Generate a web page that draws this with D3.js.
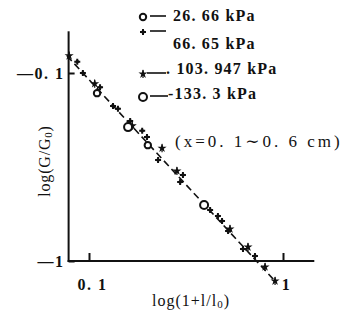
<!DOCTYPE html>
<html>
<head>
<meta charset="utf-8">
<script src="https://cdn.jsdelivr.net/npm/d3@7"></script>
<style>
    html, body { margin: 0; padding: 0; background: #fff; }
    svg text { font-family: "Liberation Serif", "DejaVu Serif", serif; fill: #111; }
</style>
</head>
<body>
<div id="chart"></div>
<script>
/* === log(G/G0) vs log(1+l/l0), four pressures === */

var SERIES_NAMES = ['26. 66 kPa', '66. 65 kPa', '. 103. 947 kPa', '-133. 3 kPa'];

// 26.66 kPa (small circles)
var S1_X = [0.110, 0.201];
var S1_Y = [-0.128, -0.242];

// 66.65 kPa (+)
var S2_X = [0.087, 0.093, 0.114, 0.133, 0.141, 0.163, 0.188, 0.199, 0.227, 0.295, 0.305, 0.421, 0.462, 0.485, 0.521, 0.622, 0.717];
var S2_Y = [-0.087, -0.100, -0.119, -0.150, -0.155, -0.180, -0.203, -0.219, -0.290, -0.380, -0.349, -0.536, -0.576, -0.613, -0.692, -0.864, -0.941];

// 103.947 kPa (stars)
var S3_X = [0.079, 0.107, 0.167, 0.238, 0.284, 0.533, 0.660, 0.808, 0.910];
var S3_Y = [-0.081, -0.114, -0.191, -0.251, -0.332, -0.676, -0.843, -1.076, -1.278];

// 133.3 kPa (circles)
var S4_X = [0.159, 0.392];
var S4_Y = [-0.194, -0.504];

// fitted line end points
var FIT_X = [0.077, 0.91];
var FIT_Y = [-0.081, -1.28];

var X_TICKS = [0.1, 1];
var X_TICK_LABELS = ['0. 1', '1'];
var Y_TICKS = [-0.1, -1];
var Y_TICK_LABELS = ['\u20140. 1', '\u20141'];

var X_EXTENT = [0.0785, 1.45];
var Y_EXTENT = [-0.06, -1];

var width = 347, height = 311;

var svg = d3.select('#chart')
    .append('svg')
    .attr('width', width)
    .attr('height', height);

var x = d3.scaleLog().domain([0.1, 1]).range([89, 283]);
var y = d3.scaleLog().domain([-0.1, -1]).range([73, 261]);

function zip(xs, ys) {
    return xs.map(function(v, i) { return { x: v, y: ys[i] }; });
}

// Axes lines
var x0 = x(X_EXTENT[0]);
svg.append('line')
    .attr('x1', x0).attr('x2', x0)
    .attr('y1', y(Y_EXTENT[0])).attr('y2', y(Y_EXTENT[1]) + 1)
    .attr('stroke', '#111').attr('stroke-width', 2);
svg.append('line')
    .attr('x1', x0 - 1).attr('x2', x(X_EXTENT[1]))
    .attr('y1', y(Y_EXTENT[1])).attr('y2', y(Y_EXTENT[1]))
    .attr('stroke', '#111').attr('stroke-width', 2);

// Ticks (inward) via d3 axes
var xAxis = d3.axisBottom(x)
    .tickValues(X_TICKS)
    .tickSizeInner(-8)
    .tickSizeOuter(0)
    .tickPadding(18)
    .tickFormat(function(d, i) { return X_TICK_LABELS[i]; });

var yAxis = d3.axisLeft(y)
    .tickValues(Y_TICKS)
    .tickSizeInner(-6)
    .tickSizeOuter(0)
    .tickPadding(4)
    .tickFormat(function(d, i) { return Y_TICK_LABELS[i]; });

var gx = svg.append('g')
    .attr('transform', 'translate(0,' + y(-1) + ')')
    .call(xAxis);
var gy = svg.append('g')
    .attr('transform', 'translate(' + x0 + ',0)')
    .call(yAxis);

[gx, gy].forEach(function(g) {
    g.select('.domain').remove();
    g.selectAll('line').attr('stroke', '#111').attr('stroke-width', 2);
    g.attr('font-family', null).attr('font-size', null);
    g.selectAll('text')
        .attr('fill', '#111')
        .style('font-size', '16px')
        .style('font-weight', 'bold')
        .style('letter-spacing', '1.5px');
});
gx.selectAll('.tick text').attr('dx', 3);

// Axis titles
svg.append('text')
    .attr('x', 191).attr('y', 302)
    .attr('text-anchor', 'middle')
    .attr('dominant-baseline', 'middle')
    .style('font-size', '16px')
    .style('letter-spacing', '1px')
    .html('log(1+l/l<tspan font-size="11" dy="3">0</tspan><tspan dy="-3">)</tspan>');

svg.append('text')
    .attr('transform', 'translate(46,161) rotate(-90)')
    .attr('text-anchor', 'middle')
    .attr('dominant-baseline', 'middle')
    .style('font-size', '16px')
    .style('letter-spacing', '0.8px')
    .html('log(G/G<tspan font-size="11" dy="3">0</tspan><tspan dy="-3">)</tspan>');

// Fitted dashed line
svg.append('path')
    .datum(zip(FIT_X, FIT_Y))
    .attr('fill', 'none')
    .attr('stroke', '#111')
    .attr('stroke-width', 1.6)
    .attr('stroke-dasharray', '7,4')
    .attr('d', d3.line().x(function(d) { return x(d.x); }).y(function(d) { return y(d.y); }));

// Markers
function drawMarker(g, kind) {
    if (kind === 'smallCircle') {
        g.append('circle').attr('r', 3.2).attr('fill', '#fff').attr('stroke', '#111').attr('stroke-width', 2);
    } else if (kind === 'circle') {
        g.append('circle').attr('r', 4).attr('fill', '#fff').attr('stroke', '#111').attr('stroke-width', 2);
    } else if (kind === 'plus') {
        g.append('path').attr('d', d3.symbol().type(d3.symbolCross).size(20)()).attr('fill', '#111');
        g.append('circle').attr('r', 1.8).attr('fill', '#111');
    } else {
        g.append('path').attr('d', d3.symbol().type(d3.symbolStar).size(26)()).attr('fill', '#111');
        g.append('line').attr('x1', 0).attr('x2', 0).attr('y1', -4).attr('y2', 4)
            .attr('stroke', '#111').attr('stroke-width', 1.2);
    }
}

var seriesList = [
    { pts: zip(S1_X, S1_Y), kind: 'smallCircle' },
    { pts: zip(S2_X, S2_Y), kind: 'plus' },
    { pts: zip(S3_X, S3_Y), kind: 'star' },
    { pts: zip(S4_X, S4_Y), kind: 'circle' }
];

seriesList.forEach(function(s) {
    svg.append('g').selectAll('g')
        .data(s.pts)
        .join('g')
        .attr('transform', function(d) { return 'translate(' + x(d.x) + ',' + y(d.y) + ')'; })
        .each(function() { drawMarker(d3.select(this), s.kind); });
});

// Legend
var legendRows = [
    { my: 17, ly: 16, lx1: 150, lx2: 166, tx: 173, ty: 17 },
    { my: 32, ly: 31, lx1: 150, lx2: 166, tx: 173, ty: 45 },
    { my: 74, ly: 73, lx1: 147, lx2: 166, tx: 166, ty: 70 },
    { my: 97, ly: 96, lx1: 150, lx2: 168, tx: 168, ty: 95 }
];

legendRows.forEach(function(r, i) {
    var g = svg.append('g').attr('transform', 'translate(143,' + r.my + ')');
    drawMarker(g, seriesList[i].kind);
    svg.append('line')
        .attr('x1', r.lx1).attr('x2', r.lx2)
        .attr('y1', r.ly).attr('y2', r.ly)
        .attr('stroke', '#111').attr('stroke-width', 1.6);
    svg.append('text')
        .attr('x', r.tx).attr('y', r.ty)
        .attr('dominant-baseline', 'middle')
        .style('font-size', '16px')
        .style('font-weight', 'bold')
        .style('letter-spacing', '1.2px')
        .text(SERIES_NAMES[i]);
});

svg.append('text')
    .attr('x', 175).attr('y', 143)
    .attr('dominant-baseline', 'middle')
    .style('font-size', '17px')
    .style('letter-spacing', '3px')
    .text('(x=0. 1\u223c0. 6 cm)');
</script>
</body>
</html>
